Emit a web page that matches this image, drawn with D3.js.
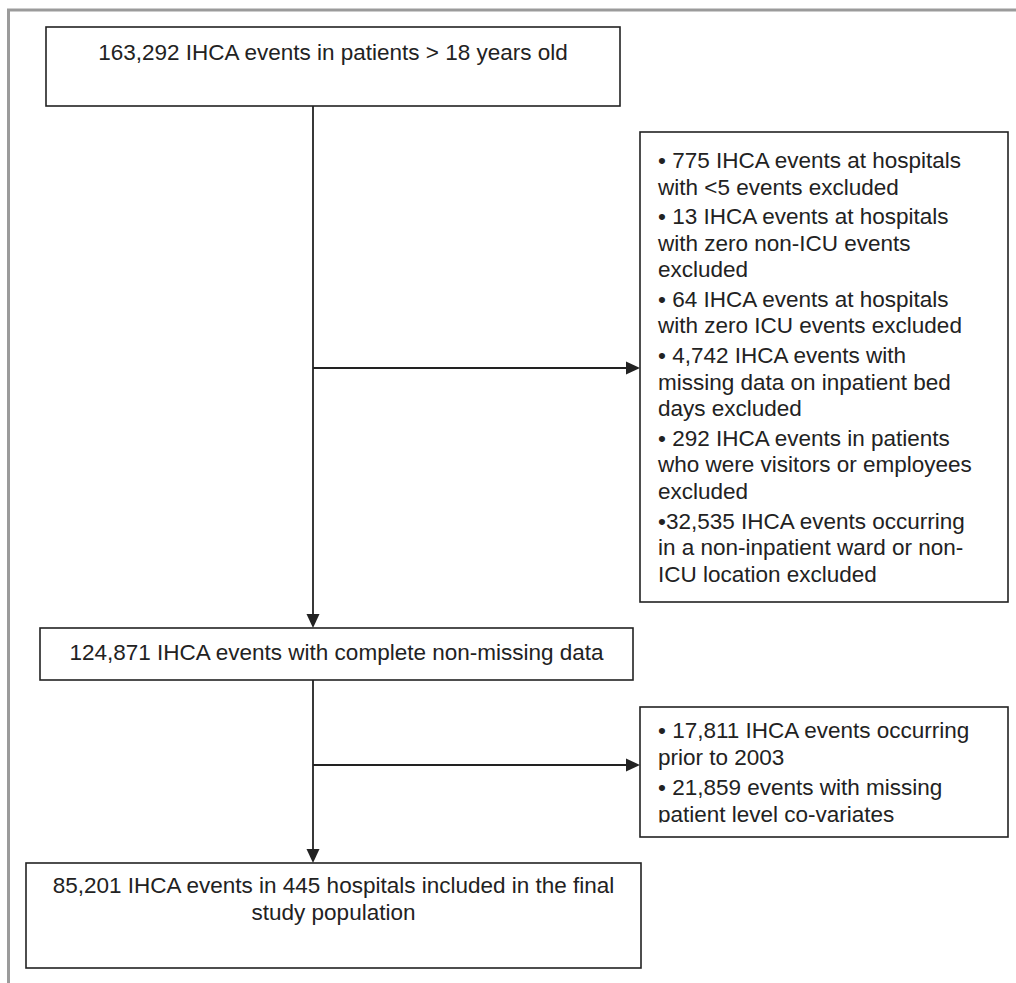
<!DOCTYPE html>
<html lang="en">
<head>
  <meta charset="UTF-8">
  <title>IHCA cohort flow</title>
  <style>
    body { margin: 0; background: #fff; }
    svg { display: block; }
    text { font-family: "Liberation Sans", Arial, sans-serif; font-size: 22.5px; fill: #222; }
  </style>
</head>
<body>
<svg width="1016" height="983"></svg>
<script src="https://d3js.org/d3.v7.min.js"></script>
<script>
// flow texts, as printed
const topLines = ["163,292 IHCA events in patients > 18 years old"];
const midLines = ["124,871 IHCA events with complete non-missing data"];
const finalLines = ["85,201 IHCA events in 445 hospitals included in the final", "study population"];
const exclusionsA = [
  ["\u2022 775 IHCA events at hospitals", "with <5 events excluded"],
  ["\u2022 13 IHCA events at hospitals", "with zero non-ICU events", "excluded"],
  ["\u2022 64 IHCA events at hospitals", "with zero ICU events excluded"],
  ["\u2022 4,742 IHCA events with", "missing data on inpatient bed", "days excluded"],
  ["\u2022 292 IHCA events in patients", "who were visitors or employees", "excluded"],
  ["\u202232,535 IHCA events occurring", "in a non-inpatient ward or non-", "ICU location excluded"]
];
const exclusionsB = [
  ["\u2022 17,811 IHCA events occurring", "prior to 2003"],
  ["\u2022 21,859 events with missing", "patient level co-variates"]
];

const svg = d3.select("svg");
const ink = "#222";
const spineX = 313;

// outer frame (top + left only visible)
svg.append("path")
  .attr("d", "M8.5,983V10H1016")
  .attr("fill", "none").attr("stroke", "#9b9b9b").attr("stroke-width", 3);

const layout = {
  top:   { x: 46, y: 27, w: 574, h: 79, first: 60 },
  mid:   { x: 40, y: 628, w: 593, h: 52, first: 660 },
  final: { x: 26, y: 863, w: 615, h: 105, first: 893 },
  exA:   { x: 640, y: 132, w: 368, h: 470, first: 168, lh: 26.5, gap: 3.2 },
  exB:   { x: 640, y: 707, w: 368, h: 130, first: 738, lh: 27, gap: 3, clip: 822.5 }
};

function box(b) {
  svg.append("rect")
    .attr("x", b.x).attr("y", b.y).attr("width", b.w).attr("height", b.h)
    .attr("fill", "#fff").attr("stroke", ink).attr("stroke-width", 1.6);
}

function centered(b, lines) {
  box(b);
  svg.append("g").selectAll("text").data(lines).join("text")
    .attr("x", b.x + b.w / 2)
    .attr("y", (d, i) => b.first + i * 27)
    .attr("text-anchor", "middle")
    .text(d => d);
}

function bullets(b, groups, id) {
  box(b);
  const g = svg.append("g");
  if (b.clip) {
    svg.append("clipPath").attr("id", id).append("rect")
      .attr("x", b.x).attr("y", b.y).attr("width", b.w).attr("height", b.clip - b.y);
    g.attr("clip-path", `url(#${id})`);
  }
  let y = b.first;
  const rows = [];
  groups.forEach(grp => {
    grp.forEach(line => { rows.push({ line, y }); y += b.lh; });
    y += b.gap;
  });
  g.selectAll("text").data(rows).join("text")
    .attr("x", b.x + 18)
    .attr("y", d => d.y)
    .text(d => d.line);
}

function arrow(x1, y1, x2, y2) {
  const ang = Math.atan2(y2 - y1, x2 - x1);
  const len = 14, half = 6.5;
  const bx = x2 - len * Math.cos(ang), by = y2 - len * Math.sin(ang);
  svg.append("line")
    .attr("x1", x1).attr("y1", y1).attr("x2", bx).attr("y2", by)
    .attr("stroke", ink).attr("stroke-width", 1.8);
  const px = -Math.sin(ang) * half, py = Math.cos(ang) * half;
  svg.append("path")
    .attr("d", `M${x2},${y2}L${bx + px},${by + py}L${bx - px},${by - py}Z`)
    .attr("fill", ink);
}

// connectors
arrow(spineX, layout.top.y + layout.top.h, spineX, layout.mid.y);
arrow(spineX, 368, layout.exA.x, 368);
arrow(spineX, layout.mid.y + layout.mid.h, spineX, layout.final.y);
arrow(spineX, 765, layout.exB.x, 765);

centered(layout.top, topLines);
centered(layout.mid, midLines);
centered(layout.final, finalLines);
bullets(layout.exA, exclusionsA, "clipA");
bullets(layout.exB, exclusionsB, "clipB");
</script>
</body>
</html>
